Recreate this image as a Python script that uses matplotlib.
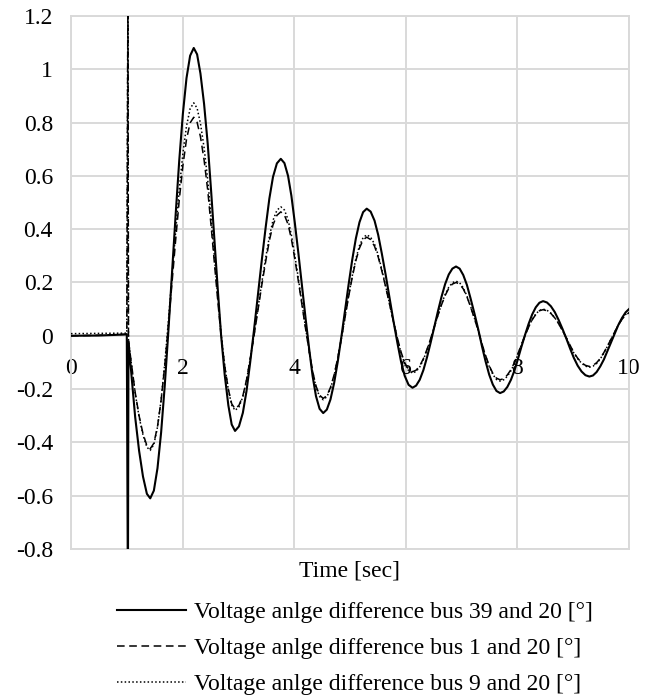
import numpy as np
import matplotlib
matplotlib.use('Agg')
import matplotlib.pyplot as plt

plt.rcParams['font.family'] = ['Liberation Serif', 'DejaVu Serif']
plt.rcParams['axes.unicode_minus'] = False

# time [sec], main samples
t_a = [0.0, 0.5, 1.0, 1.02, 1.03,
       1.15, 1.29, 1.42,
       1.55, 1.68, 1.81, 1.94, 2.07, 2.20,
       2.32, 2.45, 2.57, 2.69, 2.82, 2.94,
       3.08, 3.21, 3.35, 3.49, 3.62, 3.76,
       3.89, 4.01, 4.14, 4.27, 4.39, 4.52,
       4.65, 4.78, 4.91, 5.04, 5.17, 5.30,
       5.44, 5.57, 5.71, 5.85, 5.98, 6.12,
       6.25, 6.38, 6.51, 6.64, 6.77, 6.90,
       7.03, 7.16, 7.30, 7.43, 7.56, 7.69,
       7.82, 7.95, 8.07, 8.20, 8.33, 8.46,
       8.60, 8.74, 8.88, 9.01, 9.15, 9.29,
       9.42, 9.55, 9.68, 9.81, 9.94, 10.0]

# extra samples read in between
t_b = [1.22, 1.36,
       1.485, 1.615, 1.745, 1.875, 2.005, 2.135,
       2.26, 2.385, 2.51, 2.63, 2.755, 2.88,
       3.01, 3.145, 3.28, 3.42, 3.555, 3.69,
       3.825, 3.95, 4.075, 4.205, 4.33, 4.455,
       4.585, 4.715, 4.845, 4.975, 5.105, 5.235,
       5.37, 5.505, 5.64, 5.78, 5.915, 6.05,
       6.185, 6.315, 6.445, 6.575, 6.705, 6.835,
       6.965, 7.095, 7.23, 7.365, 7.495, 7.625,
       7.755, 7.885, 8.01, 8.135, 8.265, 8.395,
       8.53, 8.67, 8.81, 8.945, 9.08, 9.22,
       9.355, 9.485, 9.615, 9.745, 9.875]

# bus 39 - 20
bus39_a = [0.0, 0.001, 0.005, -1.0, -0.02,
           -0.305, -0.528, -0.61,
           -0.497, -0.188, 0.235, 0.658, 0.967, 1.08,
           0.984, 0.721, 0.362, 0.002, -0.261, -0.357,
           -0.289, -0.102, 0.154, 0.409, 0.596, 0.664,
           0.600, 0.426, 0.187, -0.052, -0.226, -0.29,
           -0.239, -0.098, 0.094, 0.285, 0.426, 0.477,
           0.432, 0.309, 0.141, -0.027, -0.150, -0.195,
           -0.165, -0.081, 0.033, 0.146, 0.230, 0.26,
           0.228, 0.141, 0.023, -0.096, -0.183, -0.215,
           -0.192, -0.129, -0.043, 0.044, 0.107, 0.13,
           0.111, 0.059, -0.012, -0.082, -0.134, -0.153,
           -0.136, -0.089, -0.024, 0.041, 0.088, 0.100]
bus39_b = [-0.431, -0.593,
           -0.581, -0.363, 0.017, 0.453, 0.833, 1.051,
           1.056, 0.870, 0.547, 0.176, -0.147, -0.333,
           -0.340, -0.208, 0.022, 0.285, 0.515, 0.647,
           0.648, 0.525, 0.310, 0.064, -0.151, -0.274,
           -0.277, -0.178, -0.005, 0.192, 0.365, 0.464,
           0.466, 0.379, 0.228, 0.054, -0.097, -0.184,
           -0.187, -0.129, -0.026, 0.091, 0.194, 0.252,
           0.252, 0.191, 0.084, -0.039, -0.146, -0.207,
           -0.209, -0.165, -0.087, 0.002, 0.080, 0.124,
           0.125, 0.089, 0.025, -0.048, -0.112, -0.148,
           -0.149, -0.115, -0.057, 0.009, 0.067]

# bus 1 - 20
bus1_a = [0.0, 0.002, 0.006, 1.3, -0.02,
          -0.212, -0.367, -0.424,
          -0.341, -0.113, 0.198, 0.509, 0.737, 0.82,
          0.747, 0.547, 0.273, -0.001, -0.201, -0.274,
          -0.225, -0.089, 0.096, 0.280, 0.416, 0.465,
          0.418, 0.290, 0.115, -0.060, -0.188, -0.235,
          -0.194, -0.084, 0.068, 0.219, 0.329, 0.37,
          0.336, 0.244, 0.118, -0.009, -0.101, -0.135,
          -0.113, -0.051, 0.033, 0.116, 0.178, 0.20,
          0.176, 0.109, 0.018, -0.074, -0.141, -0.165,
          -0.147, -0.099, -0.034, 0.032, 0.080, 0.098,
          0.084, 0.045, -0.009, -0.062, -0.101, -0.115,
          -0.101, -0.063, -0.012, 0.040, 0.078, 0.086]
bus1_b = [-0.300, -0.412,
          -0.403, -0.242, 0.038, 0.358, 0.638, 0.799,
          0.801, 0.660, 0.414, 0.132, -0.114, -0.255,
          -0.261, -0.166, 0.000, 0.191, 0.357, 0.452,
          0.453, 0.363, 0.205, 0.025, -0.133, -0.223,
          -0.225, -0.147, -0.011, 0.146, 0.282, 0.360,
          0.361, 0.296, 0.183, 0.052, -0.061, -0.126,
          -0.129, -0.086, -0.011, 0.076, 0.151, 0.194,
          0.194, 0.147, 0.065, -0.030, -0.112, -0.159,
          -0.161, -0.127, -0.067, 0.000, 0.060, 0.094,
          0.094, 0.067, 0.019, -0.036, -0.084, -0.111,
          -0.111, -0.085, -0.038, 0.015, 0.062]

# bus 9 - 20
bus9_a = [0.008, 0.009, 0.01, 1.3, -0.02,
          -0.215, -0.372, -0.43,
          -0.343, -0.104, 0.222, 0.548, 0.787, 0.874,
          0.797, 0.586, 0.297, 0.009, -0.203, -0.28,
          -0.229, -0.089, 0.102, 0.293, 0.433, 0.484,
          0.436, 0.303, 0.122, -0.059, -0.192, -0.24,
          -0.199, -0.085, 0.070, 0.224, 0.338, 0.379,
          0.344, 0.249, 0.120, -0.010, -0.105, -0.14,
          -0.117, -0.054, 0.033, 0.119, 0.182, 0.205,
          0.180, 0.111, 0.018, -0.076, -0.145, -0.17,
          -0.152, -0.103, -0.035, 0.033, 0.082, 0.10,
          0.085, 0.046, -0.009, -0.064, -0.103, -0.118,
          -0.104, -0.065, -0.012, 0.041, 0.080, 0.088]
bus9_b = [-0.304, -0.418,
          -0.408, -0.240, 0.054, 0.390, 0.684, 0.852,
          0.854, 0.706, 0.446, 0.148, -0.112, -0.260,
          -0.267, -0.168, 0.003, 0.201, 0.372, 0.471,
          0.472, 0.378, 0.215, 0.029, -0.134, -0.228,
          -0.229, -0.150, -0.010, 0.149, 0.289, 0.368,
          0.370, 0.303, 0.186, 0.053, -0.064, -0.131,
          -0.134, -0.090, -0.012, 0.077, 0.155, 0.199,
          0.199, 0.150, 0.066, -0.031, -0.115, -0.164,
          -0.165, -0.131, -0.070, 0.000, 0.061, 0.095,
          0.096, 0.068, 0.019, -0.037, -0.086, -0.114,
          -0.114, -0.087, -0.039, 0.015, 0.063]

labels = ['Voltage anlge difference bus 39 and 20 [°]',
          'Voltage anlge difference bus 1 and 20 [°]',
          'Voltage anlge difference bus 9 and 20 [°]']

xticks = [0, 2, 4, 6, 8, 10]
yticks = [-0.8, -0.6, -0.4, -0.2, 0, 0.2, 0.4, 0.6, 0.8, 1, 1.2]

# merge both sample sets in time order
t = np.array(t_a + t_b)
order = np.argsort(t, kind='stable')
t = t[order]
bus39 = np.array(bus39_a + bus39_b)[order]
bus1 = np.array(bus1_a + bus1_b)[order]
bus9 = np.array(bus9_a + bus9_b)[order]

grid_c = '#d9d9d9'

fig = plt.figure(figsize=(6.58, 6.95), dpi=100)
ax = fig.add_axes([0.1079, 0.2101, 0.8480, 0.7669])

ax.plot(t, bus39, color='black', lw=1.5, ls='-', label=labels[0], zorder=3)
ax.plot(t, bus1, color='black', lw=1.1, ls=(0, (5, 3)), label=labels[1], zorder=3)
ax.plot(t, bus9, color='black', lw=1.1, ls=(0, (1, 1.5)), label=labels[2], zorder=3)

ax.set_xlim(0, 10)
ax.set_ylim(-0.8, 1.2)
ax.set_xticks(xticks)
ax.set_yticks(yticks)
ax.set_yticklabels([f'{v + 0:g}' for v in yticks])
ax.grid(True, color=grid_c, lw=1.4)
ax.set_axisbelow(True)

for s in ['left', 'top', 'right', 'bottom']:
    ax.spines[s].set_color(grid_c)
    ax.spines[s].set_linewidth(1.4)
ax.spines['bottom'].set_position(('data', 0))
ax.axhline(ax.get_ylim()[0], color=grid_c, lw=1.4, clip_on=False, zorder=0)

ax.tick_params(axis='both', length=0, labelsize=17, colors='black')
ax.tick_params(axis='y', pad=13)
ax.tick_params(axis='x', pad=16)

ax.set_xlabel('Time [sec]', fontsize=17)
ax.xaxis.set_label_coords(0.5, -0.022)

fig.legend(loc='upper left', bbox_to_anchor=(0.178, 0.134), frameon=False,
           fontsize=17, handlelength=2.9, handletextpad=0.34,
           labelspacing=0.6, borderpad=0, borderaxespad=0)

fig.savefig('out.png', dpi=100)
